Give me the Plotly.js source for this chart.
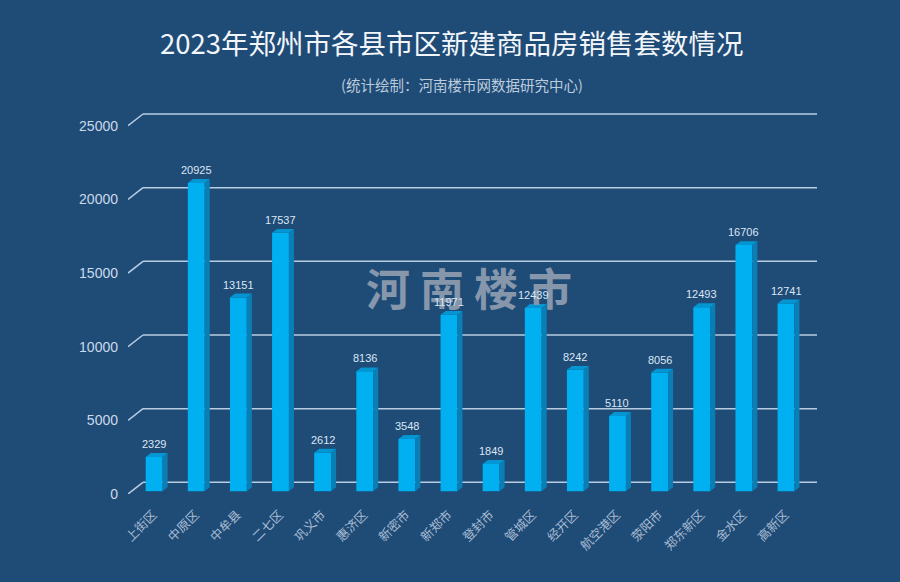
<!DOCTYPE html>
<html>
<head>
<meta charset="utf-8">
<script src="https://cdn.plot.ly/plotly-3.0.1.min.js"></script>
<style>html,body{margin:0;padding:0;background:#1f4b77;}#chart{width:900px;height:582px;}</style>
</head>
<body>
<div id="chart"></div>
<script>
// ---- data ----
const categories = ['上街区','中原区','中牟县','二七区','巩义市','惠济区','新密市','新郑市','登封市','管城区','经开区','航空港区','荥阳市','郑东新区','金水区','高新区'];
const sales = [2329,20925,13151,17537,2612,8136,3548,11971,1849,12439,8242,5110,8056,12493,16706,12741];
const yTicks = [0,5000,10000,15000,20000,25000];
const titleText = '2023年郑州市各县市区新建商品房销售套数情况';
const subtitleText = '(统计绘制：河南楼市网数据研究中心)';
const watermarkText = '河 南 楼 市';

// ---- 3D styling constants (in axis units) ----
const BAR_OFF = 0.12, BAR_W = 0.40, SIDE_DX = 0.12, SIDE_DY = 265, BASE = 190;
const GRID_DX = 0.356, GRID_DY = 795;
const LABEL_OFF = 0.10;
const X0 = -0.5, X1 = categories.length - 0.5;

const idx = categories.map((c, i) => i);
const barX = idx.map(i => i + BAR_OFF);
const tickX = idx.map(i => i + LABEL_OFF);

// side and top faces
const sideX = [], sideY = [], topX = [], topY = [];
idx.forEach(i => {
  const xl = barX[i] - BAR_W / 2, xr = barX[i] + BAR_W / 2;
  const b = BASE, t = BASE + sales[i];
  sideX.push(xr, xr + SIDE_DX, xr + SIDE_DX, xr, xr, null);
  sideY.push(b, b + SIDE_DY, t + SIDE_DY, t, b, null);
  topX.push(xl, xr, xr + SIDE_DX, xl + SIDE_DX, xl, null);
  topY.push(t, t, t + SIDE_DY, t + SIDE_DY, t, null);
});

const traces = [
  {type: 'bar', x: barX, y: sales, base: BASE, width: BAR_W,
   marker: {color: '#00b0f0', line: {width: 0}}, hoverinfo: 'skip', showlegend: false},
  {type: 'scatter', mode: 'lines', x: sideX, y: sideY, fill: 'toself', fillcolor: '#0a7fb5',
   line: {width: 0, color: '#0a7fb5'}, hoverinfo: 'skip', showlegend: false},
  {type: 'scatter', mode: 'lines', x: topX, y: topY, fill: 'toself', fillcolor: '#0396d2',
   line: {width: 0, color: '#0396d2'}, hoverinfo: 'skip', showlegend: false}
];

// gridlines with perspective (back wall)
const gridColor = '#b9cde2';
const shapes = [];
yTicks.forEach(v => {
  shapes.push({type: 'line', xref: 'x', yref: 'y', layer: 'below', x0: X0, y0: v, x1: X0 + GRID_DX, y1: v + GRID_DY,
               line: {color: gridColor, width: 1.5}});
  shapes.push({type: 'line', xref: 'x', yref: 'y', layer: 'below', x0: X0 + GRID_DX, y0: v + GRID_DY, x1: X1 + GRID_DX, y1: v + GRID_DY,
               line: {color: gridColor, width: 1.5}});
});

const annotations = [
  {xref: 'paper', yref: 'paper', x: 0.495, y: 0.54, text: watermarkText, showarrow: false,
   font: {family: 'Noto Sans CJK SC', size: 44, color: '#8797ab', weight: 'bold'}},
  {xref: 'paper', yref: 'paper', x: 0.485, y: 1.07, yanchor: 'middle', text: subtitleText, showarrow: false,
   font: {family: 'Noto Sans CJK SC', size: 14.5, color: '#bccbdb'}}
];
idx.forEach(i => {
  annotations.push({xref: 'x', yref: 'y', x: barX[i], y: BASE + sales[i] + SIDE_DY, text: String(sales[i]),
    showarrow: false, yanchor: 'bottom', yshift: 1,
    font: {family: 'Liberation Sans, Arial', size: 11, color: '#dbe7f4'}});
});

const layout = {
  width: 900, height: 582,
  paper_bgcolor: '#1f4b77', plot_bgcolor: '#1f4b77',
  margin: {l: 128, r: 83, t: 111, b: 88},
  title: {text: titleText, x: 0.502, xanchor: 'center', y: 0.923, yanchor: 'middle', yref: 'container',
          font: {family: 'Noto Sans CJK SC', size: 27.5, color: '#f2f6fa'}},
  xaxis: {range: [X0, X1 + GRID_DX], tickvals: tickX, ticktext: categories, tickangle: -45,
          showgrid: false, zeroline: false, showline: false, ticks: '', fixedrange: true, ticklabelstandoff: 10,
          tickfont: {family: 'Noto Sans CJK SC', size: 12.5, color: '#a9bdd3'}},
  yaxis: {range: [0, 26000], tickvals: yTicks, ticktext: yTicks.map(String), showgrid: false, zeroline: false,
          showline: false, ticks: '', ticklabelstandoff: 9, fixedrange: true,
          tickfont: {family: 'Liberation Sans, Arial', size: 14, color: '#cbdaea'}},
  shapes: shapes,
  annotations: annotations,
  showlegend: false
};

Plotly.newPlot('chart', traces, layout, {displayModeBar: false, staticPlot: true});
</script>
</body>
</html>
